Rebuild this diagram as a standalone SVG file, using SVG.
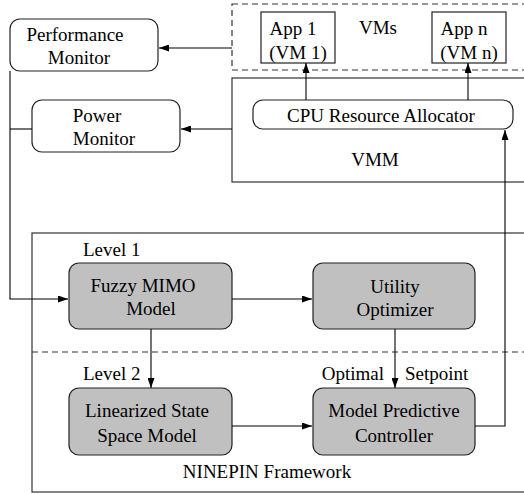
<svg xmlns="http://www.w3.org/2000/svg" width="524" height="494" viewBox="0 0 524 494">
<defs>
<marker id="ah" markerWidth="10" markerHeight="7" refX="10" refY="3.5" orient="auto" markerUnits="userSpaceOnUse">
<path d="M0,0 L10,3.5 L0,7 Z" fill="#000"/>
</marker>
<style>
text{font-family:"Liberation Serif","Times New Roman",serif;font-size:19px;fill:#000;text-anchor:middle}
.box{fill:#fff;stroke:#222;stroke-width:1.2}
.gray{fill:#c0c0c0;stroke:#222;stroke-width:1.2}
.frame{fill:none;stroke:#333;stroke-width:1.2}
.dash{fill:none;stroke:#333;stroke-width:1.2;stroke-dasharray:6,4}
.conn{fill:none;stroke:#000;stroke-width:1.1}
.arr{marker-end:url(#ah)}
</style>
</defs>
<rect width="524" height="494" fill="#fff"/>
<g id="vms">
<rect class="dash" x="232" y="4" width="300" height="66"/>
<text x="378" y="34">VMs</text>
</g>
<g id="vmm">
<rect class="frame" x="232" y="78" width="300" height="104"/>
<text x="375" y="166">VMM</text>
</g>
<g id="ninepin">
<rect class="frame" x="32" y="233" width="500" height="259"/>
<line class="dash" x1="32" y1="352" x2="524" y2="352"/>
<text x="267" y="478">NINEPIN Framework</text>
<text x="83" y="256" style="text-anchor:start">Level 1</text>
<text x="83" y="380" style="text-anchor:start">Level 2</text>
<text x="384" y="380" style="text-anchor:end">Optimal</text>
<text x="405" y="380" style="text-anchor:start">Setpoint</text>
</g>
<g id="perf-monitor">
<rect class="box" x="10" y="19" width="148" height="52" rx="10"/>
<text x="75" y="41">Performance</text>
<text x="79" y="64">Monitor</text>
</g>
<g id="power-monitor">
<rect class="box" x="32" y="100" width="148" height="52" rx="10"/>
<text x="97" y="122">Power</text>
<text x="104" y="145">Monitor</text>
</g>
<g id="app1">
<rect class="box" x="261" y="12" width="74" height="51"/>
<text x="293" y="35">App 1</text>
<text x="298" y="59">(VM 1)</text>
</g>
<g id="appn">
<rect class="box" x="432" y="12" width="74" height="51"/>
<text x="464" y="35">App n</text>
<text x="469" y="59">(VM n)</text>
</g>
<g id="cpu-allocator">
<rect class="box" x="253" y="100" width="260" height="29" rx="10"/>
<text x="381" y="122">CPU Resource Allocator</text>
</g>
<g id="fuzzy">
<rect class="gray" x="69" y="263" width="163" height="66" rx="10"/>
<text x="143" y="292">Fuzzy MIMO</text>
<text x="151" y="315">Model</text>
</g>
<g id="utility">
<rect class="gray" x="313" y="263" width="162" height="66" rx="10"/>
<text x="395" y="293">Utility</text>
<text x="395" y="316">Optimizer</text>
</g>
<g id="linearized">
<rect class="gray" x="69" y="388" width="163" height="67" rx="10"/>
<text x="147" y="417">Linearized State</text>
<text x="147" y="442">Space Model</text>
</g>
<g id="mpc">
<rect class="gray" x="313" y="388" width="162" height="67" rx="10"/>
<text x="394" y="417">Model Predictive</text>
<text x="394" y="442">Controller</text>
</g>
<g id="connectors">
<line class="conn arr" x1="232" y1="48" x2="159" y2="48"/>
<line class="conn arr" x1="232" y1="129" x2="181" y2="129"/>
<line class="conn arr" x1="306" y1="100" x2="306" y2="63"/>
<line class="conn arr" x1="468" y1="100" x2="468" y2="63"/>
<line class="conn" x1="10" y1="129" x2="32" y2="129"/>
<polyline class="conn arr" points="10,71 10,299 68,299"/>
<line class="conn arr" x1="232" y1="299" x2="312" y2="299"/>
<line class="conn arr" x1="151" y1="329" x2="151" y2="388"/>
<line class="conn arr" x1="395" y1="329" x2="395" y2="388"/>
<line class="conn arr" x1="232" y1="426" x2="312" y2="426"/>
<polyline class="conn arr" points="475,426 505,426 505,130"/>
</g>
</svg>
